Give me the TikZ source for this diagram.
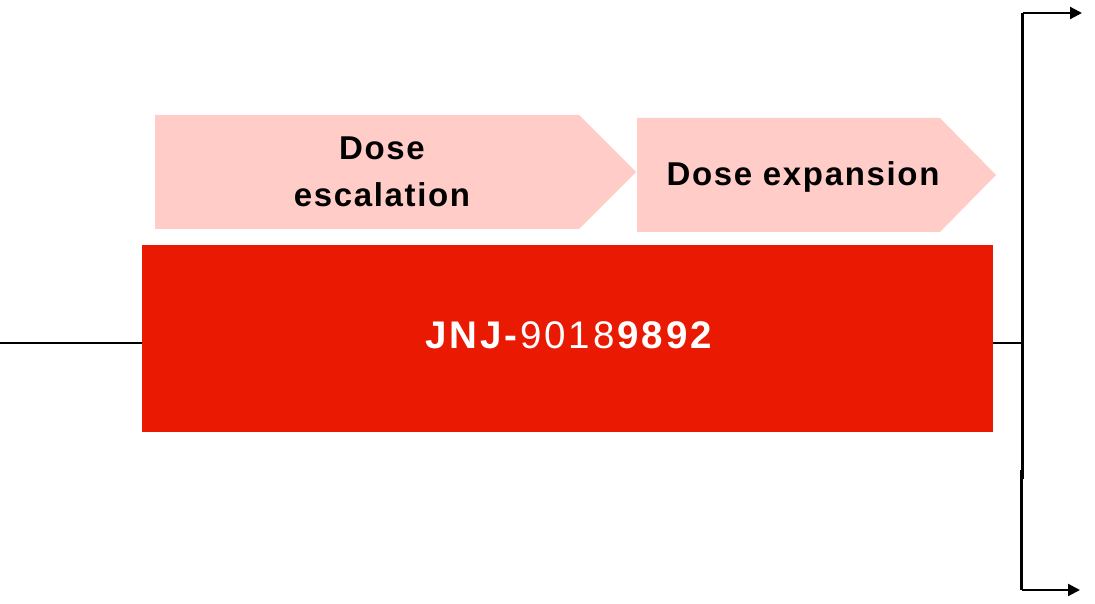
\documentclass[tikz,border=0pt]{standalone}
\usepackage{fontspec}
\setmainfont{Liberation Sans}
\newfontfamily\labfont[LetterSpace=5]{Liberation Sans}
\newfontfamily\drugfont[LetterSpace=7.5]{Liberation Sans}
\usetikzlibrary{arrows.meta}
\definecolor{drugred}{HTML}{EA1902}
\definecolor{phasepink}{HTML}{FFCCC8}
\tikzset{
  phase/.style={fill=phasepink, draw=none},
  phasetext/.style={font=\labfont\bfseries\fontsize{33}{47}\selectfont, align=center, inner sep=0pt, anchor=base},
  connector/.style={line width=2.2pt, draw=black},
  arrowline/.style={connector, -{Triangle[length=12pt, width=12pt]}},
}
\begin{document}
\begin{tikzpicture}[x=1pt, y=-1pt]
\useasboundingbox (0,0) rectangle (1095,604);
% phase chevrons
\path[phase] (155,115) -- (579,115) -- (636,172) -- (579,229) -- (155,229) -- cycle;
\path[phase] (637,118) -- (940,118) -- (996,175) -- (940,232) -- (637,232) -- cycle;
\node[phasetext] (esc) at (382,207) {Dose\\escalation};
\node[phasetext] (exp) at (803,186) {Dose expansion};
% drug box
\node[fill=drugred, draw=none, minimum width=851pt, minimum height=187pt, inner sep=0pt] (drug) at (567.5,338.5) {};
\node[anchor=base, inner sep=0pt, text=white, font=\drugfont\fontsize{38.5}{40}\selectfont] (drugname) at (570,348) {\textbf{JNJ-}9018\textbf{9892}};
% connectors
\coordinate (in) at (0,343);
\coordinate (split) at (1022,343);
\coordinate (top) at (1022.5,13);
\coordinate (bot) at (1021.5,590);
\coordinate (joinA) at (1022.5,479);
\coordinate (joinB) at (1021.5,470);
\coordinate (outA) at (1082,13);
\coordinate (outB) at (1080,590);
\draw[line width=1.6pt] (in) -- (in -| drug.west);
\draw[connector] (drug.east |- split) -- (split);
\draw[connector] (joinA) -- (top);
\draw[arrowline] (top) -- (outA);
\draw[connector] (joinB) -- (bot);
\draw[arrowline] (bot) -- (outB);
\end{tikzpicture}
\end{document}
